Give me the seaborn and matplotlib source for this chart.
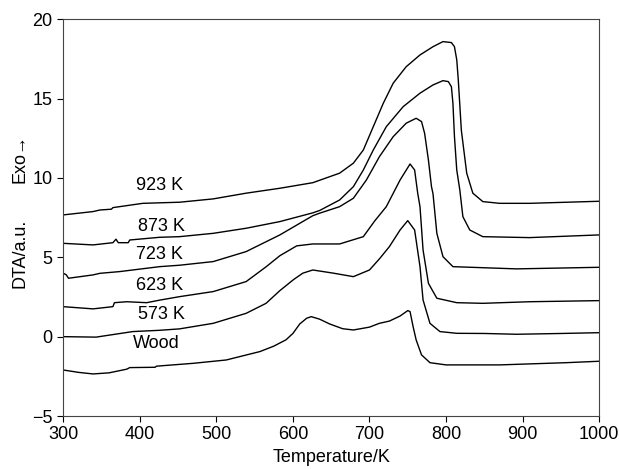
import matplotlib
matplotlib.use("Agg")
import matplotlib.pyplot as plt
import pandas as pd
import seaborn as sns

# curves (temperature in K, DTA in a.u.)
wood_t = [300, 320, 339, 360, 383, 385, 387, 420, 422, 470, 513, 557, 575, 591, 600,
          609, 618, 624, 635, 648, 665, 679, 700, 713, 726, 740, 750, 753, 757, 761,
          768, 779, 800, 870, 957, 1000]
wood_v = [-2.1, -2.25, -2.35, -2.28, -2.05, -2.0, -1.95, -1.93, -1.86, -1.68, -1.47, -0.94,
          -0.6, -0.2, 0.2, 0.8, 1.16, 1.26, 1.1, 0.8, 0.5, 0.42, 0.6, 0.84, 0.98, 1.3,
          1.64, 1.58, 0.63, -0.21, -1.15, -1.64, -1.78, -1.78, -1.64, -1.55]

k573_t = [300, 343, 391, 426, 452, 496, 539, 565, 583, 601, 613, 626, 653, 679, 700,
          713, 726, 740, 750, 759, 766, 770, 779, 792, 814, 850, 892, 950, 1000]
k573_v = [0.0, -0.03, 0.32, 0.4, 0.49, 0.84, 1.47, 2.1, 2.9, 3.6, 4.0, 4.2, 4.0, 3.78,
          4.2, 4.9, 5.67, 6.72, 7.31, 6.72, 4.41, 2.31, 0.84, 0.32, 0.21, 0.2, 0.15, 0.2,
          0.25]

k623_t = [300, 339, 365, 367, 383, 409, 426, 452, 496, 539, 565, 583, 605, 626, 661,
          692, 707, 722, 740, 753, 759, 763, 766, 770, 777, 788, 814, 848, 909, 1000]
k623_v = [1.89, 1.75, 1.89, 2.14, 2.2, 2.14, 2.3, 2.52, 2.84, 3.47, 4.4, 5.1, 5.72,
          5.84, 5.84, 6.3, 7.3, 8.19, 9.87, 10.88, 10.5, 9.04, 8.19, 5.46, 3.36, 2.42,
          2.14, 2.1, 2.2, 2.27]

k723_t = [300, 304, 307, 339, 348, 374, 426, 452, 496, 539, 583, 626, 635, 661, 679,
          696, 713, 731, 748, 761, 768, 772, 777, 781, 783, 788, 796, 809, 892, 1000]
k723_v = [4.0, 3.9, 3.68, 3.89, 3.99, 4.1, 4.41, 4.5, 4.73, 5.36, 6.41, 7.62, 7.78, 8.19,
          8.72, 9.87, 11.34, 12.6, 13.45, 13.76, 13.55, 12.82, 11.13, 9.45, 9.0, 6.51,
          5.04, 4.41, 4.27, 4.37]

k873_t = [300, 339, 365, 369, 372, 385, 387, 426, 452, 496, 539, 583, 626, 635, 661,
          679, 692, 705, 722, 744, 766, 783, 796, 803, 807, 809, 811, 814, 818, 822,
          831, 848, 909, 1000]
k873_v = [5.88, 5.78, 5.92, 6.14, 5.92, 5.92, 6.09, 6.26, 6.3, 6.51, 6.83, 7.25, 7.8,
          7.95, 8.61, 9.45, 10.5, 11.76, 13.23, 14.49, 15.34, 15.86, 16.13, 16.07,
          15.75, 14.7, 12.6, 10.5, 9.24, 7.56, 6.72, 6.3, 6.24, 6.41]

k923_t = [300, 339, 348, 363, 365, 404, 452, 496, 539, 583, 626, 661, 679, 692, 705,
          718, 731, 748, 766, 783, 796, 807, 811, 814, 816, 820, 827, 835, 848, 870,
          909, 1000]
k923_v = [7.67, 7.88, 7.98, 8.03, 8.13, 8.4, 8.47, 8.68, 9.04, 9.35, 9.7, 10.3, 10.93,
          11.76, 13.23, 14.7, 15.97, 17.01, 17.75, 18.27, 18.59, 18.53, 18.27, 17.44,
          16.18, 13.0, 10.3, 9.04, 8.51, 8.4, 8.4, 8.53]

labels = ["Wood", "573 K", "623 K", "723 K", "873 K", "923 K"]
label_pos = [(421, -0.42), (428, 1.37), (426, 3.2), (426, 5.15), (428, 6.97), (426, 9.55)]

sns.set_style("ticks")
plt.rcParams["font.family"] = ["Liberation Sans", "DejaVu Sans"]
plt.rcParams["font.size"] = 13
plt.rcParams["text.color"] = "black"
plt.rcParams["axes.labelcolor"] = "black"

fig, ax = plt.subplots(figsize=(6.19, 4.69), dpi=100)
fig.subplots_adjust(left=0.102, right=0.968, top=0.959, bottom=0.113)

curves = [(wood_t, wood_v), (k573_t, k573_v), (k623_t, k623_v),
          (k723_t, k723_v), (k873_t, k873_v), (k923_t, k923_v)]
for name, (t, v) in zip(labels, curves):
    df = pd.DataFrame({"T": t, "DTA": v})
    sns.lineplot(data=df, x="T", y="DTA", ax=ax, color="black", lw=1.0,
                 estimator=None, sort=False)

for name, (x, y) in zip(labels, label_pos):
    ax.text(x, y, name, ha="center", va="center", fontsize=13, color="black")

ax.set_xlim(300, 1000)
ax.set_ylim(-5, 20)
ax.set_xticks(range(300, 1001, 100))
ax.set_yticks(range(-5, 21, 5))
ax.set_yticklabels(["\u22125", "0", "5", "10", "15", "20"])
ax.tick_params(direction="out", length=4, width=0.8, labelsize=13, colors="black")
for s in ax.spines.values():
    s.set_visible(True)
    s.set_color("#444444")
    s.set_linewidth(0.8)

ax.set_xlabel("Temperature/K", fontsize=13, labelpad=4, color="black")
ax.set_ylabel("")
fig.text(0.033, (469 - 253) / 469, "DTA/a.u.", rotation=90, ha="center", va="center",
         fontsize=13, color="black")
fig.text(0.033, (469 - 158) / 469, "Exo\u2192", rotation=90, ha="center", va="center",
         fontsize=13, color="black")

fig.savefig("out.png", dpi=100)
